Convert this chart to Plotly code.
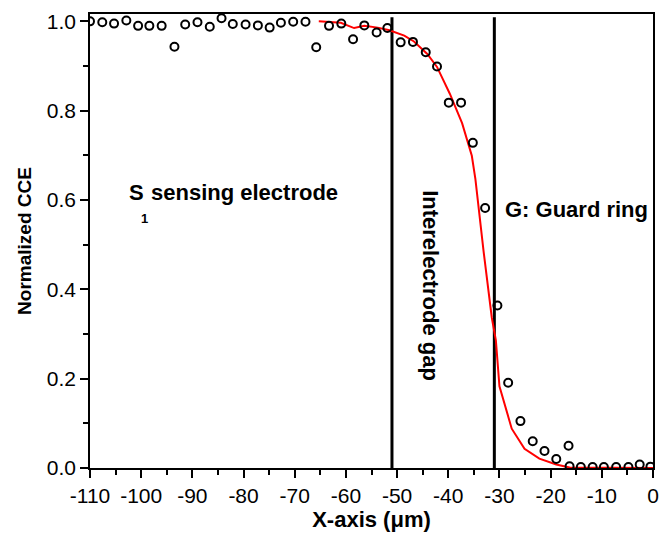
import plotly.graph_objects as go

# Measured CCE data (open circles)
x_data = [-110, -107.6, -105.3, -102.9, -100.6, -98.4, -96.0, -93.5, -91.4, -89.0,
          -86.6, -84.3, -82.1, -79.6, -77.2, -74.9, -72.7, -70.3, -67.9, -65.8,
          -63.3, -60.9, -58.6, -56.4, -54.0, -51.9, -49.3, -46.9, -44.4, -42.2,
          -39.9, -37.5, -35.2, -32.8, -30.4, -28.3, -25.9, -23.5, -21.2, -18.9,
          -16.5, -16.3, -14.1, -11.8, -9.6, -7.2, -4.8, -2.6, -0.5]
y_data = [1.0, 0.998, 0.995, 1.002, 0.990, 0.990, 0.990, 0.943, 0.993, 0.998,
          0.988, 1.007, 0.994, 0.993, 0.991, 0.986, 0.997, 0.999, 0.999, 0.942,
          0.990, 0.995, 0.960, 0.991, 0.975, 0.985, 0.953, 0.954, 0.931, 0.899,
          0.818, 0.818, 0.728, 0.582, 0.364, 0.191, 0.105, 0.060, 0.038, 0.020,
          0.050, 0.004, 0.002, 0.002, 0.002, 0.002, 0.002, 0.008, 0.003]

# Simulated / fitted curve (red line)
fit_x = [-65.3, -61.0, -58.4, -56.4, -53.8, -51.5, -48.6, -46.7, -44.1, -42.2,
         -39.7, -37.3, -35.4, -34.7, -33.1, -31.5, -30.7, -30.0, -27.6, -25.1,
         -22.2, -18.9, -16.3, 0.0]
fit_y = [1.0, 0.997, 0.985, 0.990, 0.986, 0.980, 0.968, 0.955, 0.927, 0.898,
         0.838, 0.772, 0.699, 0.647, 0.485, 0.337, 0.286, 0.183, 0.088, 0.043,
         0.021, 0.008, 0.001, 0.0]

# Electrode boundaries (vertical lines)
boundaries = [-51, -31]
boundary_y = [0, 1.009]

x_ticks = list(range(-110, 1, 10))
x_ticktext = [str(v) for v in x_ticks]
y_ticks = [0.0, 0.2, 0.4, 0.6, 0.8, 1.0]
y_ticktext = ["%.1f" % v for v in y_ticks]

FONT = "Liberation Sans, Arial, sans-serif"

fig = go.Figure()

for b in boundaries:
    fig.add_trace(go.Scatter(x=[b, b], y=boundary_y, mode="lines",
                             line=dict(color="black", width=3),
                             showlegend=False, hoverinfo="skip"))

fig.add_trace(go.Scatter(x=fit_x, y=fit_y, mode="lines",
                         line=dict(color="#ff0000", width=2),
                         showlegend=False))

fig.add_trace(go.Scatter(x=x_data, y=y_data, mode="markers",
                         marker=dict(symbol="circle-open", size=8,
                                     line=dict(color="black", width=2),
                                     color="black"),
                         showlegend=False))

axis_common = dict(
    showline=True, linecolor="black", linewidth=1.5, mirror=True,
    ticks="outside", ticklen=8, tickwidth=1.5, tickcolor="black",
    showgrid=False, zeroline=False,
    tickfont=dict(family=FONT, size=21, color="black"),
)

fig.update_xaxes(range=[-110, 0], tickvals=x_ticks, ticktext=x_ticktext,
                 minor=dict(dtick=5, ticks="outside", ticklen=5, tickwidth=1.5, tickcolor="black"),
                 title=dict(text="<b>X-axis (\u03bcm)</b>", font=dict(family=FONT, size=22, color="black"),
                            standoff=4),
                 **axis_common)
fig.update_yaxes(range=[0, 1.0165], tickvals=y_ticks, ticktext=y_ticktext,
                 minor=dict(dtick=0.1, ticks="outside", ticklen=5, tickwidth=1.5, tickcolor="black"),
                 title=dict(text="<b>Normalized CCE</b>", font=dict(family=FONT, size=19, color="black"),
                            standoff=10),
                 **axis_common)

ann_font = dict(family=FONT, size=22, color="black")
fig.add_annotation(x=-102.8, y=0.6175, text="<b>S</b>", showarrow=False,
                   xanchor="left", yanchor="middle", font=ann_font)
fig.add_annotation(x=-99.4, y=0.558, text="<b>1</b>", showarrow=False,
                   xanchor="center", yanchor="middle", font=dict(family=FONT, size=13, color="black"))
fig.add_annotation(x=-98.4, y=0.6175, text="<b>sensing electrode</b>", showarrow=False,
                   xanchor="left", yanchor="middle", font=ann_font)
fig.add_annotation(x=-29.4, y=0.578, text="<b>G: Guard ring</b>", showarrow=False,
                   xanchor="left", yanchor="middle", font=ann_font)
fig.add_annotation(x=-43.4, y=0.4075, text="<b>Interelectrode gap</b>", showarrow=False,
                   textangle=90, xanchor="center", yanchor="middle", font=ann_font)

fig.update_layout(
    width=669, height=536,
    margin=dict(l=90, r=12, t=10, b=67),
    paper_bgcolor="white", plot_bgcolor="white",
    showlegend=False,
)

fig.write_html("out.html")
